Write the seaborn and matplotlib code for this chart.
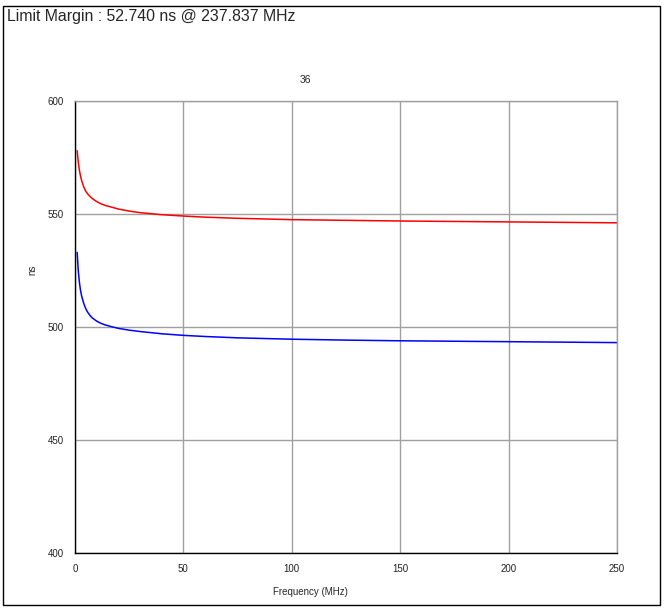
import matplotlib
matplotlib.use("Agg")
import matplotlib.pyplot as plt
import pandas as pd
import seaborn as sns

# values
freq = [1, 1.5, 2, 2.5, 3, 4, 5, 6, 7, 8, 10, 12, 14, 17, 20, 25, 30, 40, 50, 60, 75, 100, 125, 150, 175, 200, 225, 250]
upper = [578, 573, 569.5, 567, 565, 562, 560, 558.7, 557.7, 556.8, 555.5, 554.5, 553.8, 553, 552.2, 551.3, 550.6, 549.7, 549.1, 548.6, 548.1, 547.5, 547.2, 546.9, 546.7, 546.5, 546.3, 546.1]
lower = [533, 525, 520, 516.5, 514, 510.5, 508, 506.3, 505, 504, 502.6, 501.6, 500.9, 500.1, 499.4, 498.6, 498, 497, 496.3, 495.8, 495.2, 494.6, 494.2, 493.9, 493.7, 493.5, 493.3, 493.1]
title = "Limit Margin : 52.740 ns @ 237.837 MHz"
subtitle = "36"

df = pd.DataFrame({"f": freq * 2, "ns": upper + lower,
                   "s": ["upper"] * len(freq) + ["lower"] * len(freq)})

sns.set_style("white")
plt.rcParams["font.family"] = ["Liberation Sans", "DejaVu Sans"]

fig = plt.figure(figsize=(6.67, 6.12), dpi=100)
ax = fig.add_axes([75 / 667, 59 / 612, 542 / 667, 452 / 612])

sns.lineplot(data=df, x="f", y="ns", hue="s", palette={"upper": "#ff0000", "lower": "#0000ff"},
             linewidth=1.1, legend=False, ax=ax)

ax.set_xlim(0, 250)
ax.set_ylim(400, 600)
ax.set_xticks([0, 50, 100, 150, 200, 250])
ax.set_yticks([400, 450, 500, 550, 600])
ax.grid(True, color="#a0a0a0", linewidth=1)
ax.tick_params(direction="inout", length=14, width=1, color="black", labelsize=7, pad=1,
               labelcolor="#222222")
for side in ["left", "bottom"]:
    ax.spines[side].set_color("black")
    ax.spines[side].set_linewidth(1)
for side in ["top", "right"]:
    ax.spines[side].set_color("#a0a0a0")
    ax.spines[side].set_linewidth(1)
ax.set_xlabel("")
ax.set_ylabel("")

fig.text(7 / 667, 1 - 17 / 612, title, fontsize=11.4, va="center", ha="left")
fig.text(305 / 667, 1 - 80 / 612, subtitle, fontsize=7.5, va="center", ha="center")
fig.text(310 / 667, 1 - 592 / 612, "Frequency (MHz)", fontsize=7, va="center", ha="center")
fig.text(32 / 667, 1 - 270 / 612, "ns", fontsize=7, va="center", ha="center", rotation=90)

fig.patches.append(plt.Rectangle((3 / 667, 7 / 612), 657 / 667, 599 / 612, transform=fig.transFigure,
                                 fill=False, edgecolor="black", linewidth=1))

fig.savefig("out.png", dpi=100)
